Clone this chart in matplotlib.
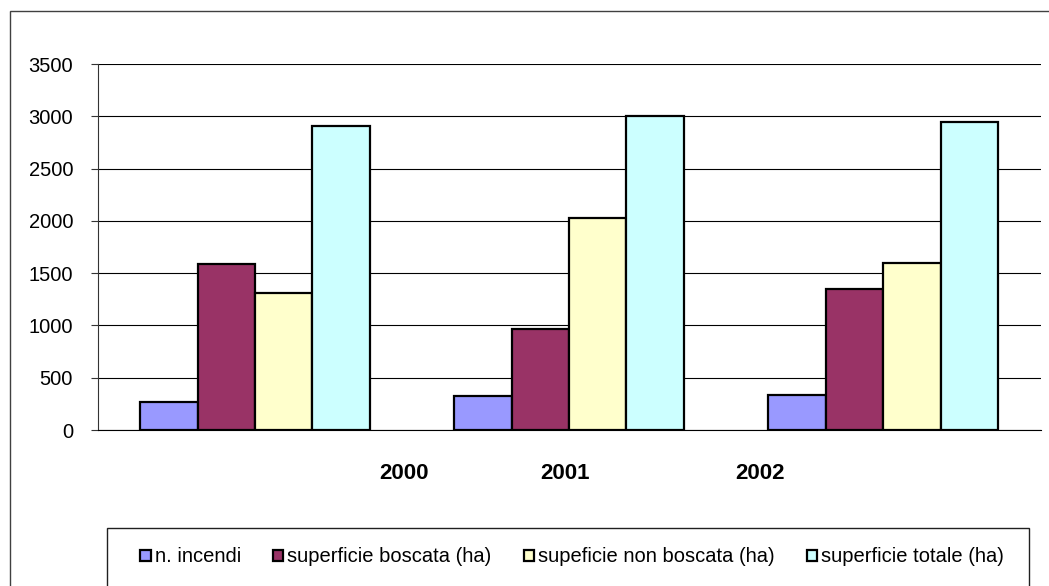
import matplotlib.pyplot as plt
import numpy as np
from matplotlib.patches import Rectangle

# --- dati (incendi per anno) ---
years = ['2000', '2001', '2002']
series_names = ['n. incendi', 'superficie boscata (ha)',
                'supeficie non boscata (ha)', 'superficie totale (ha)']
n_incendi = [270, 324, 334]
sup_boscata = [1589, 969, 1344]
sup_non_boscata = [1312, 2030, 1598]
sup_totale = [2908, 3006, 2943]

colors = ['#9999FF', '#993366', '#FFFFCC', '#CCFFFF']
# the year labels sit off-centre in the original
label_x = [0.475, 0.987, 1.608]

plt.rcParams['font.family'] = ['Liberation Sans', 'DejaVu Sans']

W, H = 1049, 586
fig = plt.figure(figsize=(W / 100, H / 100), dpi=100)
ax = fig.add_axes([98 / W, 1 - 430 / H, 943 / W, 366 / H])

x = np.arange(len(years))
w = 0.183
all_series = [n_incendi, sup_boscata, sup_non_boscata, sup_totale]
for i, (vals, name, c) in enumerate(zip(all_series, series_names, colors)):
    ax.bar(x + (i - 1.5) * w, vals, width=w, color=c, edgecolor='black',
           linewidth=1.6, label=name, zorder=3)

ax.set_xlim(-0.5, 2.503)
ax.set_ylim(0, 3500)
ax.set_yticks(np.arange(0, 3501, 500))
ax.yaxis.grid(True, color='black', linewidth=0.8, zorder=0)
ax.set_axisbelow(True)
ax.tick_params(axis='y', labelsize=14.5, length=5, width=0.8, pad=13, color='#333333')

ax.set_xticks(label_x, years)
ax.tick_params(axis='x', length=0, labelsize=16, pad=24)
for t in ax.get_xticklabels():
    t.set_fontweight('bold')

for s in ['top', 'right']:
    ax.spines[s].set_visible(False)
ax.spines['left'].set_color('#333333')
ax.spines['left'].set_linewidth(0.8)
ax.spines['bottom'].set_color('black')
ax.spines['bottom'].set_linewidth(0.8)

# cornice esterna e riquadro legenda
fig.add_artist(Rectangle((10 / W, -0.1), 1.5, 1 - 11 / H + 0.1, fill=False,
                         edgecolor='#404040', linewidth=1, transform=fig.transFigure))
fig.add_artist(Rectangle((107 / W, -0.1), 922 / W, (586 - 528) / H + 0.1, fill=False,
                         edgecolor='#202020', linewidth=1, transform=fig.transFigure))

handles, labels = ax.get_legend_handles_labels()
fig.legend(handles, labels, loc='center', bbox_to_anchor=(572 / W, 1 - 557 / H),
           ncol=4, frameon=False, fontsize=14.5, handlelength=0.5, handleheight=0.5,
           handletextpad=0.2, columnspacing=1.6)

plt.savefig('out.png', dpi=100)
